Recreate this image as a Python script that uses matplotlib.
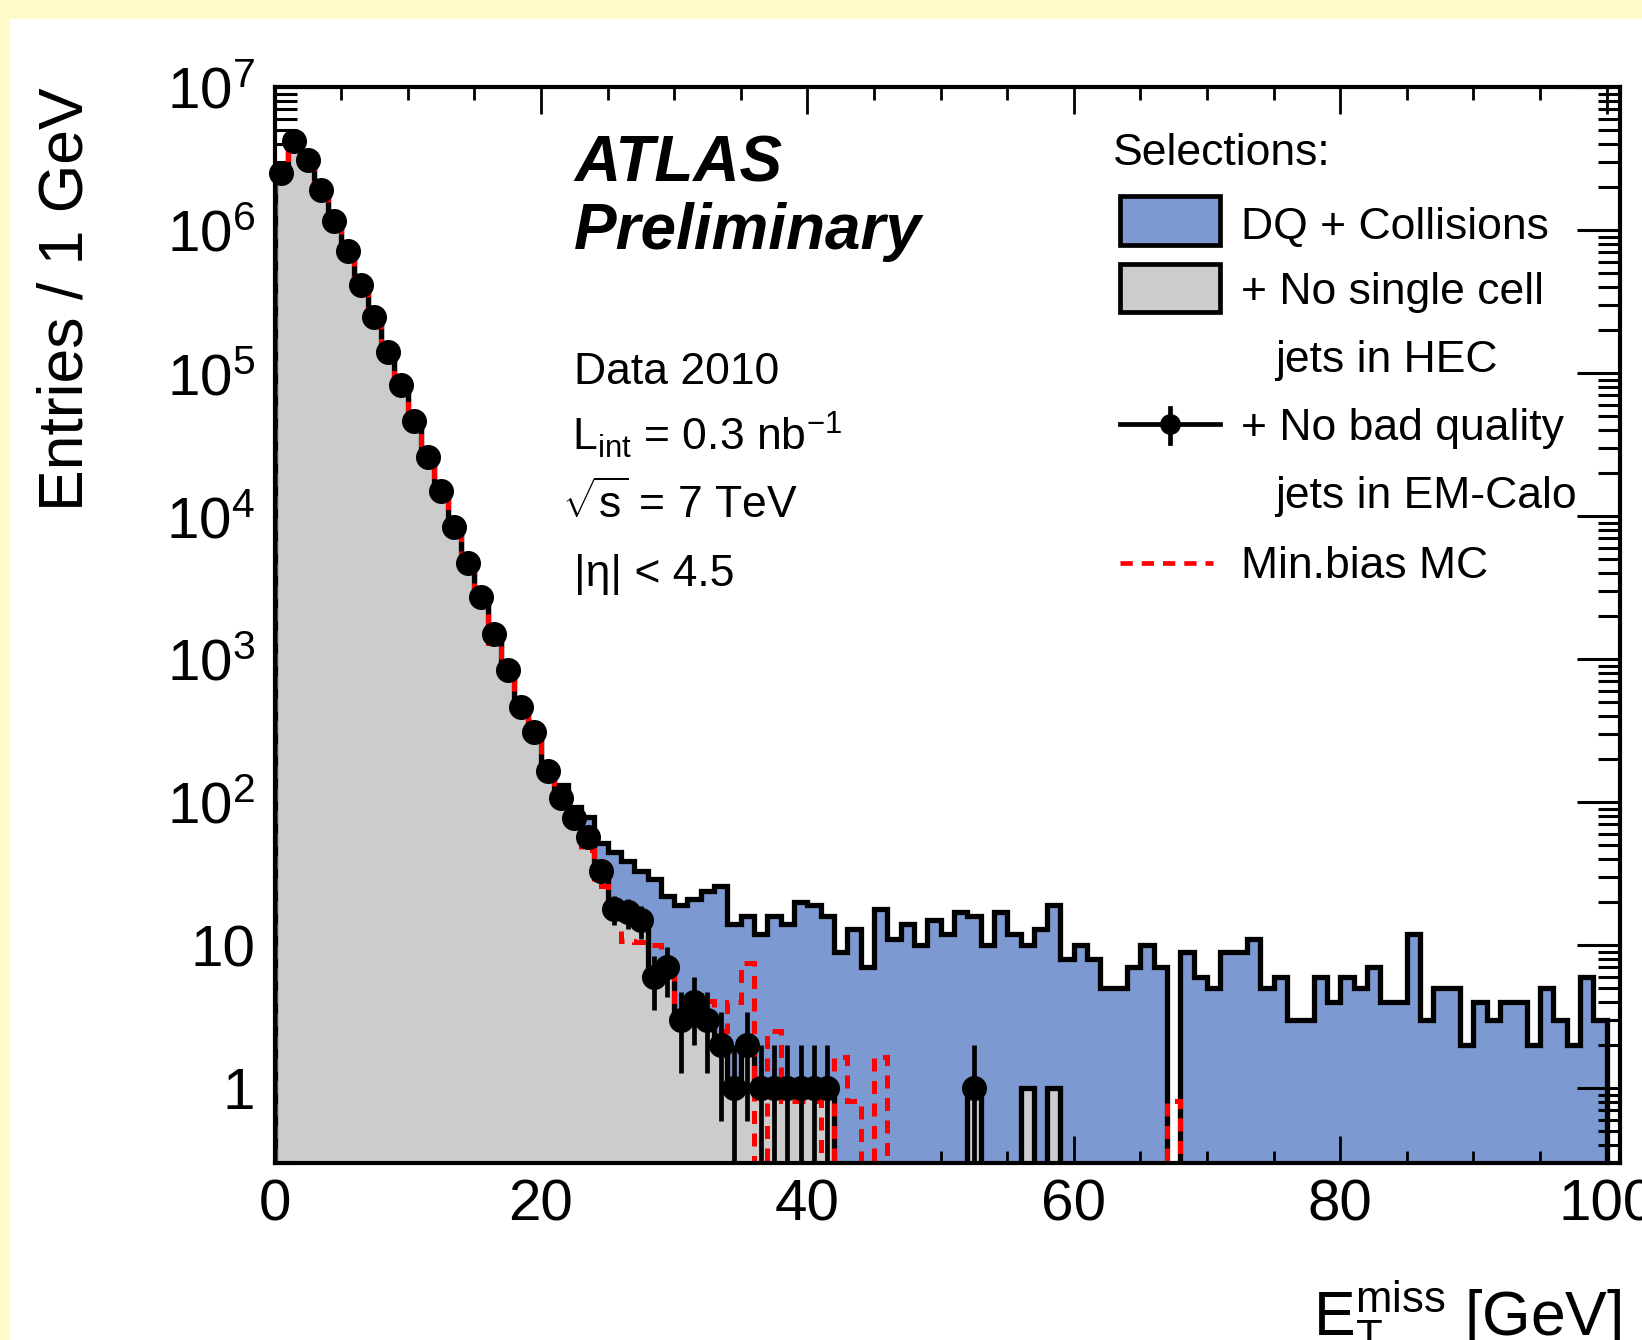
import numpy as np
import matplotlib
matplotlib.use("Agg")
import matplotlib.pyplot as plt
from matplotlib.patches import Rectangle
from matplotlib.lines import Line2D
from matplotlib.ticker import FixedLocator, FixedFormatter, LogLocator, NullFormatter, MultipleLocator

W, H = 1642, 1340

plt.rcParams['font.family'] = ['Liberation Sans', 'DejaVu Sans']
plt.rcParams['mathtext.fontset'] = 'custom'
plt.rcParams['mathtext.rm'] = 'Liberation Sans'
plt.rcParams['mathtext.it'] = 'Liberation Sans:italic'
plt.rcParams['mathtext.bf'] = 'Liberation Sans:bold'

# 1 GeV bins, 0..100 GeV
bin_edges = np.arange(0, 101)

# data: + No bad quality jets in EM-Calo
data_counts = [2.5e6, 4.2e6, 3.1e6, 1.9e6, 1.15e6, 7.1e5, 4.1e5, 2.45e5, 1.4e5, 8.2e4,
               4.6e4, 2.6e4, 1.5e4, 8.4e3, 4.7e3, 2.7e3, 1.5e3, 835, 459, 311,
               165, 107, 77, 57, 33, 18, 17, 15, 6, 7,
               3, 4, 3, 2, 1, 2, 1, 1, 1, 1,
               1, 1, 0, 0, 0, 0, 0, 0, 0, 0,
               0, 0, 1, 0, 0, 0, 0, 0, 0, 0,
               0, 0, 0, 0, 0, 0, 0, 0, 0, 0,
               0, 0, 0, 0, 0, 0, 0, 0, 0, 0,
               0, 0, 0, 0, 0, 0, 0, 0, 0, 0,
               0, 0, 0, 0, 0, 0, 0, 0, 0, 0]

# + No single cell jets in HEC
hec_counts = [2.9e6, 4.2e6, 3.1e6, 1.9e6, 1.15e6, 7.1e5, 4.1e5, 2.45e5, 1.4e5, 8.2e4,
              4.6e4, 2.6e4, 1.5e4, 8.4e3, 4.7e3, 2.7e3, 1.5e3, 835, 459, 311,
              165, 107, 77, 57, 33, 18, 17, 15, 6, 7,
              3, 4, 3, 2, 1, 2, 1, 1, 1, 1,
              1, 1, 0, 0, 0, 0, 0, 0, 0, 0,
              0, 0, 1, 0, 0, 0, 1, 0, 1, 0,
              0, 0, 0, 0, 0, 0, 0, 0, 0, 0,
              0, 0, 0, 0, 0, 0, 0, 0, 0, 0,
              0, 0, 0, 0, 0, 0, 0, 0, 0, 0,
              0, 0, 0, 0, 0, 0, 0, 0, 0, 0]

# DQ + Collisions
dq_counts = [2.9e6, 4.2e6, 3.1e6, 1.9e6, 1.15e6, 7.1e5, 4.1e5, 2.45e5, 1.4e5, 8.2e4,
             4.6e4, 2.6e4, 1.5e4, 8.4e3, 4.7e3, 2.7e3, 1.5e3, 840, 465, 318,
             175, 131, 93, 79, 52, 45, 39, 33, 29, 22,
             19, 21, 24, 26, 14, 16, 12, 16, 14, 20,
             19, 16, 9, 13, 7, 18, 11, 14, 10, 15,
             12, 17, 16, 10, 17, 12, 10, 13, 19, 8,
             10, 8, 5, 5, 7, 10, 7, 0, 9, 6,
             5, 9, 9, 11, 5, 6, 3, 3, 6, 4,
             6, 5, 7, 4, 4, 12, 3, 5, 5, 2,
             4, 3, 4, 4, 2, 5, 3, 2, 6, 3]

# Min.bias MC (normalised)
mc_counts = [2.9e6, 4.3e6, 3.1e6, 1.9e6, 1.15e6, 7.1e5, 4.1e5, 2.4e5, 1.4e5, 8.1e4,
             4.6e4, 2.6e4, 1.45e4, 8.2e3, 4.5e3, 2.6e3, 1.3e3, 800, 440, 300,
             160, 100, 72, 46, 26, 16, 10.7, 10.5, 10, 8,
             3.7, 4.5, 4.1, 2.5, 4, 7.45, 0, 2.5, 0.82, 0.82,
             0.82, 0, 1.66, 0.82, 0, 1.66, 0, 0, 0, 0,
             0, 0, 0, 0, 0, 0, 0, 0, 0, 0,
             0, 0, 0, 0, 0, 0, 0, 0.82, 0, 0,
             0, 0, 0, 0, 0, 0, 0, 0, 0, 0,
             0, 0, 0, 0, 0, 0, 0, 0, 0, 0,
             0, 0, 0, 0, 0, 0, 0, 0, 0, 0]

BLUE = '#7c9ad1'
GREY = '#cccccc'
YELLOW = '#fffac8'
FLOOR = 1e-3   # below the axis, stands in for empty bins on the log scale
DASH = (0, (2.6, 1.9))


def fx(x):
    return x / W


def fy(y):
    return 1 - y / H


def floored(vals):
    v = np.asarray(vals, dtype=float)
    return np.where(v > 0, v, FLOOR)


fig = plt.figure(figsize=(W / 100, H / 100), dpi=100)
fig.patch.set_facecolor(YELLOW)
fig.patches.append(Rectangle((fx(10), 0), 1, fy(19), transform=fig.transFigure,
                             facecolor='white', edgecolor='none', zorder=-10))

ax = fig.add_axes([fx(274.5), fy(1163), fx(1620) - fx(274.5), fy(87) - fy(1163)])
ax.set_yscale('log')

lw = 3.8
# DQ + Collisions
ax.stairs(floored(dq_counts), bin_edges, fill=True, baseline=FLOOR,
          facecolor=BLUE, edgecolor='none', zorder=1)
ax.stairs(floored(dq_counts), bin_edges, baseline=FLOOR, color='black', lw=lw, zorder=2)
# + No single cell jets in HEC
ax.stairs(floored(hec_counts), bin_edges, fill=True, baseline=FLOOR,
          facecolor=GREY, edgecolor='none', zorder=3)
ax.stairs(floored(hec_counts), bin_edges, baseline=FLOOR, color='black', lw=lw, zorder=4)
# Min.bias MC
ax.stairs(floored(mc_counts), bin_edges, baseline=FLOOR, color='red', lw=3.6,
          linestyle=DASH, zorder=5)

# data points with Poisson errors
centers = (bin_edges[:-1] + bin_edges[1:]) / 2
d = np.asarray(data_counts, dtype=float)
mask = d > 0
err = np.sqrt(d[mask])
ax.errorbar(centers[mask], d[mask], yerr=err, fmt='none', ecolor='black',
            elinewidth=3.4, capsize=0, zorder=6)
ax.plot(centers[mask], d[mask], 'o', color='black', markersize=17,
        clip_on=False, zorder=7)

ax.set_xlim(0, 101)
ax.set_ylim(0.3, 1e7)

ax.xaxis.set_major_locator(FixedLocator([0, 20, 40, 60, 80, 100]))
ax.xaxis.set_minor_locator(MultipleLocator(5))
ax.yaxis.set_major_locator(FixedLocator([1, 10, 1e2, 1e3, 1e4, 1e5, 1e6, 1e7]))
ax.yaxis.set_major_formatter(FixedFormatter(
    ['1', '10'] + [r'$\mathregular{10^{%d}}$' % k for k in range(2, 8)]))
ax.yaxis.set_minor_locator(LogLocator(base=10, subs=np.arange(2, 10), numticks=20))
ax.yaxis.set_minor_formatter(NullFormatter())

ax.tick_params(which='both', direction='in', top=True, right=True, labelsize=42)
ax.tick_params(axis='x', which='major', length=19.4, width=2.0, pad=11)
ax.tick_params(axis='x', which='minor', length=9, width=2.0)
ax.tick_params(axis='y', which='major', length=31, width=2.2, pad=14)
ax.tick_params(axis='y', which='minor', length=15.8, width=2.2)
for sp in ax.spines.values():
    sp.set_linewidth(3.0)
    sp.set_zorder(10)

# axis titles
fig.text(fx(66), fy(87), 'Entries / 1 GeV', rotation=90, ha='center', va='top', size=45)
fig.text(fx(1621), fy(1336), r'$\mathregular{E_{T}^{miss}}$ [GeV]', ha='right',
         va='baseline', size=45)

# labels
fig.text(fx(574), fy(181), 'ATLAS', size=46, weight='bold', style='italic', va='baseline')
fig.text(fx(574), fy(249), 'Preliminary', size=46, weight='bold', style='italic', va='baseline')
fig.text(fx(574), fy(384), 'Data 2010', size=32, va='baseline')
fig.text(fx(572), fy(450), r'$\mathregular{L_{int}}$ = 0.3 nb$\mathregular{^{-1}}$', size=32,
         va='baseline')
fig.text(fx(562), fy(518), r'$\sqrt{\mathregular{s}}$ = 7 TeV', size=32, va='baseline')
fig.text(fx(574), fy(586), '|η| < 4.5', size=32, va='baseline')

# legend
fig.text(fx(1113), fy(165), 'Selections:', size=32, va='baseline')
for (y0, y1, col) in [(196, 245, BLUE), (264, 312, GREY)]:
    fig.patches.append(Rectangle((fx(1120), fy(y1)), fx(1220) - fx(1120), fy(y0) - fy(y1),
                                 transform=fig.transFigure, facecolor=col,
                                 edgecolor='black', lw=3.4, zorder=5))
fig.text(fx(1241), fy(239), 'DQ + Collisions', size=32, va='baseline')
fig.text(fx(1241), fy(304), '+ No single cell', size=32, va='baseline')
fig.text(fx(1275), fy(372), 'jets in HEC', size=32, va='baseline')
fig.lines.append(Line2D([fx(1120), fx(1220)], [fy(424), fy(424)], transform=fig.transFigure,
                        color='black', lw=3.4))
fig.lines.append(Line2D([fx(1170), fx(1170)], [fy(408), fy(443)], transform=fig.transFigure,
                        color='black', lw=3.4))
fig.lines.append(Line2D([fx(1170)], [fy(424)], transform=fig.transFigure, marker='o',
                        color='black', markersize=14))
fig.text(fx(1241), fy(440), '+ No bad quality', size=32, va='baseline')
fig.text(fx(1275), fy(508), 'jets in EM-Calo', size=32, va='baseline')
fig.lines.append(Line2D([fx(1120), fx(1213)], [fy(563), fy(563)], transform=fig.transFigure,
                        color='red', lw=3.4, linestyle=DASH))
fig.text(fx(1241), fy(578), 'Min.bias MC', size=32, va='baseline')

fig.savefig('out.png', dpi=100, facecolor=fig.get_facecolor())
